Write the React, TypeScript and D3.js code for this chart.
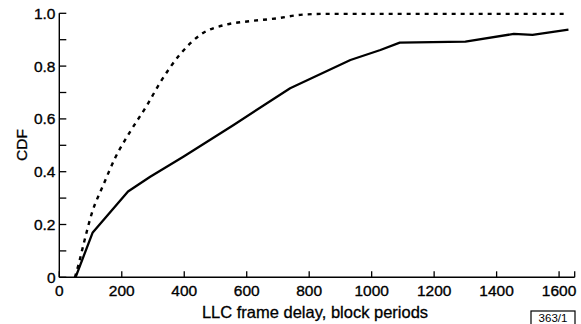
import * as d3 from "d3";

// solid curve: [delay, cdf]
const solidSeries: [number, number][] = [
  [52, 0], [107, 0.17], [220, 0.325], [291, 0.381], [397, 0.457],
  [558, 0.577], [739, 0.716], [932, 0.823], [1028, 0.861], [1090, 0.889],
  [1300, 0.893], [1455, 0.922], [1515, 0.918], [1630, 0.938]
];

// dotted curve
const dottedSeries: [number, number][] = [
  [50, 0], [62, 0.05], [77, 0.122], [104, 0.242], [141, 0.35],
  [178, 0.45], [227, 0.552], [280, 0.65], [323, 0.738], [387, 0.845],
  [451, 0.918], [537, 0.958], [601, 0.969], [697, 0.981], [771, 0.994],
  [850, 0.998], [1630, 0.998]
];

const xTicks = [0, 200, 400, 600, 800, 1000, 1200, 1400, 1600];
const yTicks = [0, 0.1, 0.2, 0.3, 0.4, 0.5, 0.6, 0.7, 0.8, 0.9, 1.0];
const yLabels = [0, 0.2, 0.4, 0.6, 0.8, 1.0];

const W = 581;
const H = 324;
const font = "'Liberation Sans', Arial, Helvetica, sans-serif";

export default function App() {
  const x = d3.scaleLinear().domain([0, 1650]).range([59.3, 574.7]);
  const y = d3.scaleLinear().domain([0, 1]).range([277.3, 13.3]);

  const solidLine = d3.line<[number, number]>()
    .x(d => x(d[0]))
    .y(d => y(d[1]));
  const dottedLine = d3.line<[number, number]>()
    .x(d => x(d[0]))
    .y(d => y(d[1]))
    .curve(d3.curveMonotoneX);

  const [x0, x1] = x.range();
  const [y0, y1] = y.range();

  return (
    <div style={{ position: "absolute", left: 0, top: 0 }}>
      <svg width={W} height={H} style={{ display: "block", background: "#fff" }} fontFamily={font}>
        {/* axes */}
        <line x1={x0} x2={x1} y1={y0} y2={y0} stroke="#000" strokeWidth={1.4} />
        <line x1={x0} x2={x0} y1={y0} y2={y1} stroke="#000" strokeWidth={1.4} />

        {yTicks.map(t => (
          <line key={"yt" + t} x1={x0} x2={x0 + 7} y1={y(t)} y2={y(t)} stroke="#000" strokeWidth={1.3} />
        ))}
        <g stroke="#000" strokeWidth={0.35} fontSize={15.5}>
          {yLabels.map(t => (
            <text key={"yl" + t} x={55.5} y={y(t)} dy="0.36em" textAnchor="end">
              {t === 0 ? "0" : d3.format(".1f")(t)}
            </text>
          ))}
        </g>

        {[...xTicks, 1650].map(t => (
          <line key={"xt" + t} x1={x(t)} x2={x(t)} y1={y0} y2={y0 - 6} stroke="#000" strokeWidth={1.3} />
        ))}
        <g stroke="#000" strokeWidth={0.35} fontSize={15.5}>
          {xTicks.map(t => (
            <text key={"xl" + t} x={x(t)} y={296} textAnchor="middle">
              {t}
            </text>
          ))}
        </g>

        <text x={315} y={318} textAnchor="middle" fontSize={16.5} stroke="#000" strokeWidth={0.3}>
          LLC frame delay, block periods
        </text>
        <text transform="translate(27,145) rotate(-90)" textAnchor="middle" fontSize={15.5} stroke="#000" strokeWidth={0.3}>
          CDF
        </text>

        {/* curves */}
        <path d={dottedLine(dottedSeries) ?? ""} fill="none" stroke="#000" strokeWidth={2.4} strokeDasharray="4,5" />
        <path d={solidLine(solidSeries) ?? ""} fill="none" stroke="#000" strokeWidth={2.3} strokeLinejoin="round" />

        {/* figure id box */}
        <rect x={531} y={311} width={44} height={14} fill="none" stroke="#000" strokeWidth={1.2} />
        <text x={553} y={322} textAnchor="middle" fontSize={11.5}>363/1</text>
      </svg>
    </div>
  );
}
